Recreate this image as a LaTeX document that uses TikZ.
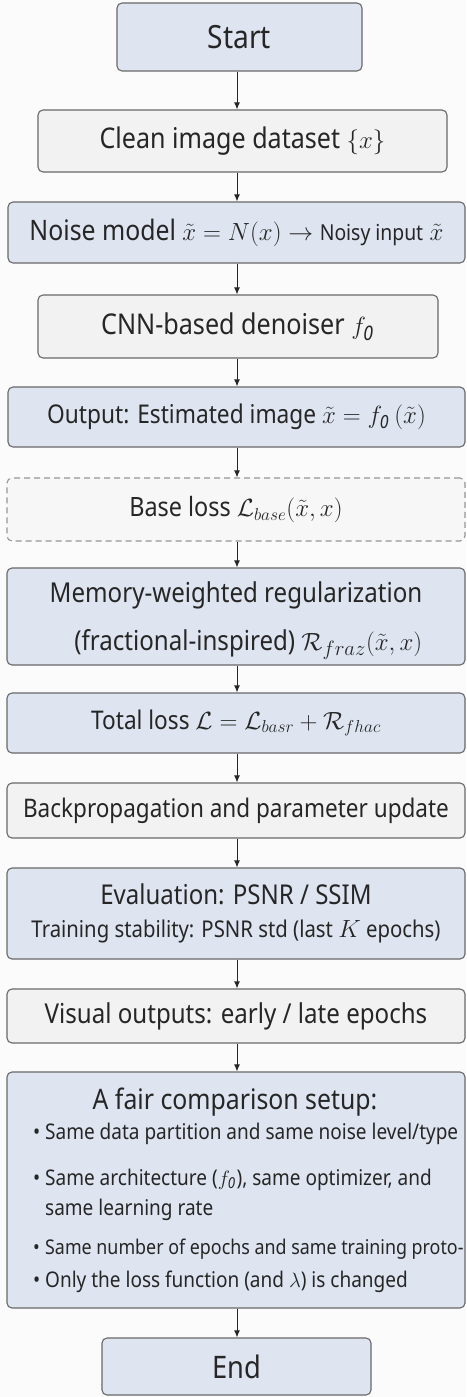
\documentclass[tikz,border=0pt]{standalone}
\usepackage{fontspec}
\setmainfont{Noto Sans}[FakeStretch=0.88]
\usetikzlibrary{arrows.meta}
\definecolor{boxblue}{RGB}{222,228,240}
\definecolor{boxgrey}{RGB}{242,242,242}
\definecolor{edge}{RGB}{105,105,105}
\definecolor{ink}{RGB}{38,38,38}
\definecolor{paper}{RGB}{251,251,251}
\newcommand\fsz[2]{\fontsize{#1}{#2}\selectfont}
\newcommand\bulletmark{\makebox[12pt][l]{\textbullet}}
\begin{document}
\begin{tikzpicture}[x=1pt,y=-1pt,
  box/.style={draw=edge, line width=1.1pt, rounded corners=5pt, inner sep=0pt, text=ink},
  bluebox/.style={box, fill=boxblue},
  greybox/.style={box, fill=boxgrey},
  dashbox/.style={box, fill=boxgrey!60, draw=edge!70, dash pattern=on 6pt off 4pt},
  label/.style={inner sep=0pt, text=ink},
  listline/.style={label, anchor=base west, font=\fsz{21.6}{26}},
  flow/.style={draw=ink, line width=1pt, -{Latex[length=7pt,width=6pt]}}]
\useasboundingbox[fill=paper] (0,0) rectangle (466,1397);
\coordinate (col) at (237,0);

% process steps, top to bottom
\node[bluebox, minimum width=245pt, minimum height=68pt] (start) at (239.5,37)
  {\fsz{32}{38}Start};
\node[greybox, minimum width=409pt, minimum height=62pt] (clean) at (242.5,141)
  {\fsz{28.5}{34}Clean image dataset $\{x\}$};
\node[bluebox, minimum width=457pt, minimum height=61pt] (noise) at (236.5,232.5)
  {\fsz{28.2}{34}Noise model $\tilde{x} = N(x) \rightarrow$ {\fsz{22}{26}Noisy input} $\tilde{x}$};
\node[greybox, minimum width=400pt, minimum height=63pt] (cnn) at (238,326.5)
  {\fsz{28.6}{34}CNN-based denoiser $f_{\mathit{0}}$};
\node[bluebox, minimum width=457pt, minimum height=60pt] (out) at (236.5,417)
  {\fsz{25.8}{31}Output: Estimated image $\tilde{x} = f_{\mathit{0}}\,(\tilde{x})$};
\node[dashbox, minimum width=458pt, minimum height=63pt] (base) at (236,509.5)
  {\fsz{26.6}{32}Base loss $\mathcal{L}_{base}(\tilde{x}, x)$};
\node[bluebox, minimum width=458pt, minimum height=97pt] (memo) at (236,616.5)
  {\fsz{27.4}{48}\begin{tabular}{@{}r@{}}Memory-weighted regularization\\
   (fractional-inspired) $\mathcal{R}_{fraz}(\tilde{x}, x)$\end{tabular}};
\node[bluebox, minimum width=458pt, minimum height=60pt] (total) at (236,723)
  {\fsz{25.7}{31}Total loss $\mathcal{L} = \mathcal{L}_{basr} + \mathcal{R}_{fhac}$};
\node[greybox, minimum width=458pt, minimum height=55pt] (back) at (236,810.5)
  {\fsz{25.6}{31}Backpropagation and parameter update};
\node[bluebox, minimum width=458pt, minimum height=91pt] (eval) at (236,913.5)
  {\begin{tabular}{@{}c@{}}\fsz{27.3}{32}Evaluation: PSNR / SSIM\\[12pt]
   \fsz{23.1}{27}Training stability: PSNR std (last $K$ epochs)\end{tabular}};
\node[greybox, minimum width=458pt, minimum height=54pt] (visual) at (236,1016)
  {\fsz{27.4}{33}Visual outputs: early / late epochs};
\node[bluebox, minimum width=458pt, minimum height=236pt] (fair) at (236,1190) {};
\node[bluebox, minimum width=269pt, minimum height=57pt] (end) at (236.5,1366.5)
  {\fsz{31}{37}End};

% contents of the comparison box
\node[label, anchor=base] (fairhead) at (235,1109)
  {\fsz{28.2}{34}A fair comparison setup:};
\node[listline] (item1) at (33,1139)
  {\bulletmark Same data partition and same noise level/type};
\node[listline] (item2) at (33,1185)
  {\bulletmark Same architecture ($f_{\mathit{0}}$), same optimizer, and};
\node[listline] (item2b) at (45,1215) {same learning rate};
\node[listline, font=\fsz{20.3}{26}] (item3) at (33,1254)
  {\bulletmark Same number of epochs and same training proto-};
\node[listline] (item4) at (33,1287)
  {\bulletmark Only the loss function (and $\lambda$) is changed};

% connectors
\foreach \a/\b in {start/clean, clean/noise, noise/cnn, cnn/out, out/base,
                   base/memo, memo/total, total/back, back/eval, eval/visual,
                   visual/fair, fair/end}
  \draw[flow] (\a.south -| col) -- (\b.north -| col);
\end{tikzpicture}
\end{document}
